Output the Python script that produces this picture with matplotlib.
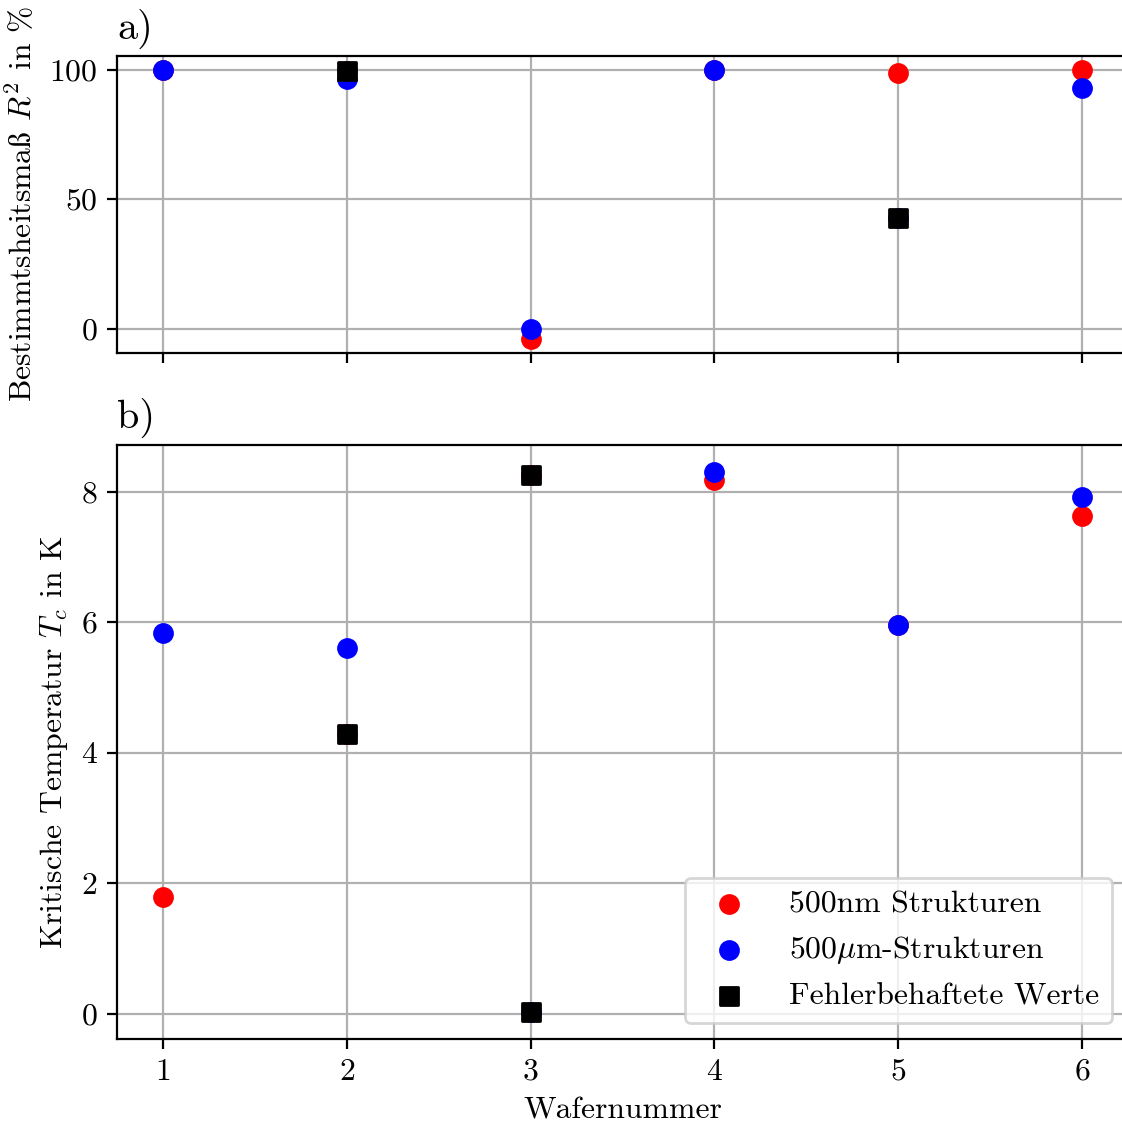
import matplotlib
matplotlib.use("Agg")
import matplotlib.pyplot as plt

plt.rcParams['font.family'] = ['cmr10', 'DejaVu Serif']
plt.rcParams['mathtext.fontset'] = 'cm'
plt.rcParams['axes.formatter.use_mathtext'] = True
plt.rcParams['font.size'] = 11.4

wafers = [1, 2, 3, 4, 5, 6]

# a) Bestimmtheitsmaß R^2 in %
r2_nm = [100.0, 99.4, -4.2, 100.0, 98.8, 100.0]
r2_um = [100.0, 96.5, 0.0, 100.0, 42.7, 93.0]
r2_err_x = [2, 5]
r2_err = [99.4, 42.7]

# b) kritische Temperatur Tc in K
tc_nm = [1.79, 4.28, 8.26, 8.18, 5.96, 7.63]
tc_um = [5.83, 5.60, 0.03, 8.30, 5.96, 7.92]
tc_err_x = [2, 3, 3]
tc_err = [4.28, 8.26, 0.03]

labels = ['500nm Strukturen', r'500$\mu$m-Strukturen', 'Fehlerbehaftete Werte']

W, H = 1122, 1125
dpi = 200
fig = plt.figure(figsize=(W / dpi, H / dpi), dpi=dpi)

left = 117 / W
right = 1128 / W
ax1 = fig.add_axes([left, 1 - 353 / H, right - left, (353 - 56) / H])
ax2 = fig.add_axes([left, 1 - 1039 / H, right - left, (1039 - 445) / H], sharex=ax1)

ms = 42
for ax, nm, um, ex, ey in [(ax1, r2_nm, r2_um, r2_err_x, r2_err),
                           (ax2, tc_nm, tc_um, tc_err_x, tc_err)]:
    ax.scatter(wafers, nm, s=ms, color='red', marker='o', label=labels[0], zorder=3)
    ax.scatter(wafers, um, s=ms, color='blue', marker='o', label=labels[1], zorder=4)
    ax.scatter(ex, ey, s=ms, color='black', marker='s', label=labels[2], zorder=5)
    ax.grid(True)
    ax.set_axisbelow(True)

ax1.set_yticks([0, 50, 100])
ax1.tick_params(labelbottom=False)
ax1.set_ylabel(r'Bestimmtsheitsma$\mathrm{\ss}$ $R^2$ in %')
ax1.set_title('a)', loc='left', fontsize=14.5)

ax2.set_yticks([0, 2, 4, 6, 8])
ax2.set_xticks(wafers)
ax2.set_xlabel('Wafernummer')
ax2.set_ylabel(r'Kritische Temperatur $T_c$ in K')
ax2.set_title('b)', loc='left', fontsize=14.5)
ax2.legend(loc='lower right', handletextpad=0.9)

fig.savefig('out.png', dpi=dpi)
